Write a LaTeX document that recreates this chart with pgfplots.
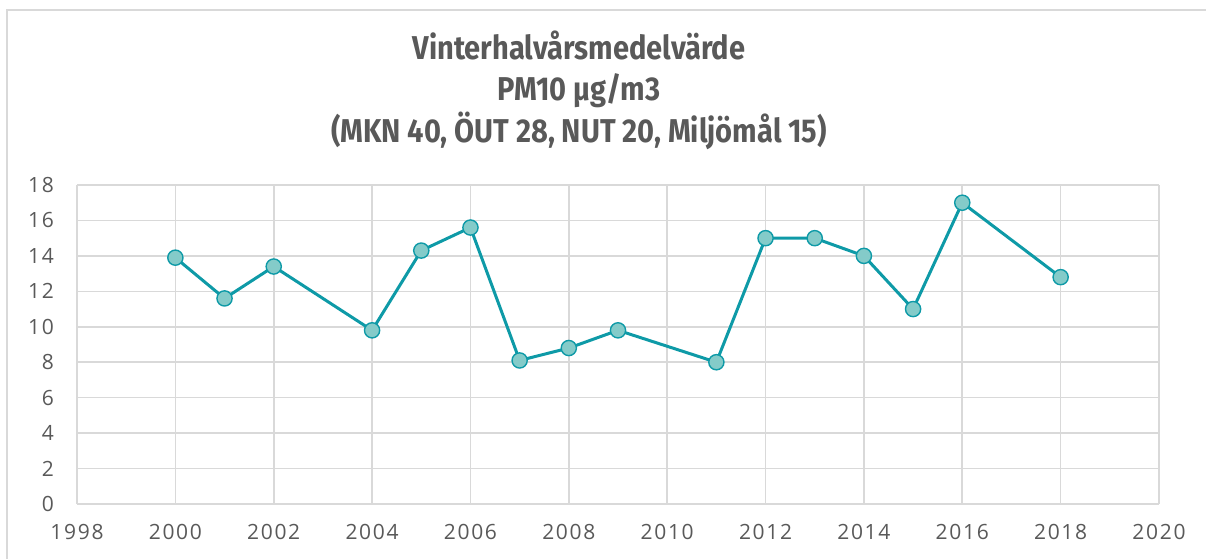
\documentclass[border=0pt]{standalone}
\usepackage{fontspec}
\usepackage{pgfplots}
\pgfplotsset{compat=1.18}
\setmainfont{Open Sans}
\newfontfamily\tickfont[LetterSpace=8]{Open Sans}
\newfontfamily\titlefont[FakeStretch=0.88]{Fira Sans}
\definecolor{gridgray}{HTML}{D9D9D9}
\definecolor{txt}{HTML}{595959}
\definecolor{tealline}{HTML}{0E9AA7}
\definecolor{tealfill}{HTML}{84CBC9}
\begin{document}
\begin{tikzpicture}
\path[use as bounding box] (0,0) rectangle (603pt,279pt);
\draw[gridgray, line width=1pt] (3.5pt,-20pt) -- (3.5pt,274pt) -- (700pt,274pt);
\node[anchor=base, text=txt, font=\titlefont\bfseries\fontsize{16.5}{19}\selectfont] at (289.5pt,249pt) {Vinterhalvårsmedelvärde};
\node[anchor=base, text=txt, font=\titlefont\bfseries\fontsize{16.5}{19}\selectfont] at (289.5pt,228.5pt) {PM10 µg/m3};
\node[anchor=base, text=txt, font=\titlefont\bfseries\fontsize{16.5}{19}\selectfont] at (289.5pt,207.5pt) {(MKN 40, ÖUT 28, NUT 20, Miljömål 15)};
\begin{axis}[
  at={(38.5pt,27pt)}, anchor=south west,
  scale only axis, width=541pt, height=159.5pt,
  xmin=1998, xmax=2020, ymin=0, ymax=18,
  xtick={1998,2000,...,2020}, ytick={0,2,...,18},
  /pgf/number format/1000 sep={},
  /pgf/number format/assume math mode=true,
  grid=major,
  major grid style={draw=gridgray, line width=0.8pt},
  axis line style={draw=gridgray, line width=0.8pt},
  axis x line*=bottom, axis y line*=left,
  tick style={draw=none},
  ticklabel style={text=txt, font=\tickfont\fontsize{10.5}{12}\selectfont},
  xticklabel style={yshift=-6.5pt},
  yticklabel style={xshift=-8pt},
  clip=false,
]
\addplot[tealline, line width=1.5pt, mark=*, mark size=3.8pt,
  mark options={fill=tealfill, draw=tealline, line width=0.7pt}]
coordinates {
(2000,13.9) (2001,11.6) (2002,13.4) (2004,9.8) (2005,14.3) (2006,15.6)
(2007,8.1) (2008,8.8) (2009,9.8) (2011,8.0) (2012,15.0) (2013,15.0)
(2014,14.0) (2015,11.0) (2016,17.0) (2018,12.8)
};
\end{axis}
\end{tikzpicture}
\end{document}
